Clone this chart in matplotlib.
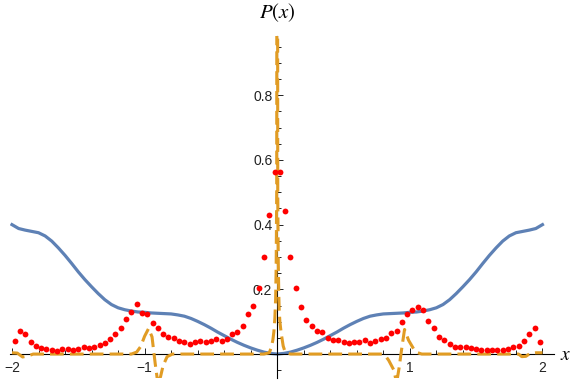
import numpy as np
import matplotlib.pyplot as plt
from matplotlib.ticker import FixedLocator

plt.rcParams['mathtext.fontset'] = 'stix'

# red points (histogram bin centres)
x_pts = np.round(np.arange(-1.98, 1.99, 0.04), 2)
y_pts = [0.040, 0.072, 0.061, 0.038, 0.026, 0.018, 0.015, 0.012, 0.008, 0.015,
         0.015, 0.011, 0.015, 0.021, 0.018, 0.023, 0.029, 0.035, 0.045, 0.062,
         0.081, 0.108, 0.130, 0.155, 0.126, 0.124, 0.097, 0.082, 0.061, 0.054,
         0.049, 0.040, 0.036, 0.030, 0.038, 0.040, 0.037, 0.040, 0.045, 0.041,
         0.046, 0.061, 0.069, 0.087, 0.124, 0.147, 0.205, 0.300, 0.429, 0.562,
         0.562, 0.442, 0.301, 0.205, 0.146, 0.106, 0.087, 0.072, 0.067, 0.050,
         0.042, 0.042, 0.037, 0.033, 0.036, 0.036, 0.042, 0.035, 0.040, 0.045,
         0.050, 0.066, 0.072, 0.099, 0.123, 0.136, 0.145, 0.136, 0.103, 0.079,
         0.054, 0.043, 0.030, 0.022, 0.023, 0.022, 0.018, 0.015, 0.012, 0.011,
         0.011, 0.011, 0.012, 0.015, 0.021, 0.026, 0.040, 0.061, 0.080, 0.037]

# blue curve (symmetric, values for |x| = 0, 0.05, ..., 2)
x_blue = np.round(np.arange(-2.0, 2.001, 0.05), 2)
y_blue_half = [0.000, 0.002, 0.006, 0.012, 0.019, 0.027, 0.036, 0.046, 0.057, 0.068,
               0.080, 0.091, 0.101, 0.110, 0.117, 0.121, 0.124, 0.125, 0.126, 0.127,
               0.129, 0.130, 0.133, 0.137, 0.143, 0.153, 0.168, 0.187, 0.208, 0.230,
               0.254, 0.280, 0.305, 0.328, 0.349, 0.365, 0.375, 0.379, 0.383, 0.388,
               0.400]
y_blue = y_blue_half[::-1] + y_blue_half[1:]

# orange dashed curve
x_orange = [-2.0, -1.96, -1.92, -1.88, -1.84, -1.10, -1.06, -1.03, -1.0, -0.97,
            -0.944, -0.92, -0.90, -0.88, -0.86, -0.83, -0.79, -0.10, -0.06, -0.045,
            -0.033, -0.025, -0.018, -0.012, -0.008, -0.004, 0.0,
            0.004, 0.008, 0.012, 0.015, 0.02, 0.03, 0.045, 0.06, 0.10,
            0.79, 0.82, 0.84, 0.88, 0.90, 0.92, 0.937, 0.96, 0.99, 1.03,
            1.06, 1.09, 1.82, 1.844, 1.875, 1.907, 1.95, 2.0]
y_orange = [0.004, 0.003, -0.009, -0.006, 0.0, 0.0, 0.006, 0.023, 0.055, 0.079,
            0.053, -0.03, -0.09, -0.07, -0.035, -0.008, 0.0, 0.0, 0.004, 0.02,
            0.043, 0.07, 0.11, 0.17, 0.27, 0.5, 3.0,
            0.5, 0.28, 0.18, 0.136, 0.10, 0.064, 0.025, 0.006, 0.0,
            0.0, -0.008, -0.019, -0.05, -0.09, -0.04, 0.012, 0.076, 0.043, 0.015,
            0.004, 0.0, 0.0, -0.008, -0.007, 0.002, 0.004, 0.004]

fig = plt.figure(figsize=(5.81, 3.80), dpi=100)
ax = fig.add_axes([10/581, 2/380, 544/581, 342/380])

ax.plot(x_blue, y_blue, color='#5E81B5', lw=2.3, zorder=2, solid_joinstyle='round')
ax.plot(x_orange, y_orange, color='#E19C24', lw=2.2, ls=(0, (4.5, 2.0)), zorder=3)
ax.plot(x_pts, y_pts, 'o', color='#FF0000', ms=4.2, mec='none', zorder=4)

ax.set_xlim(-2.015, 2.087)
ax.set_ylim(-0.074, 0.983)

for s in ['top', 'right']:
    ax.spines[s].set_visible(False)
ax.spines['left'].set_position(('data', 0))
ax.spines['bottom'].set_position(('data', 0))
ax.spines['left'].set_linewidth(0.8)
ax.spines['bottom'].set_linewidth(0.8)
ax.patch.set_visible(False)

ax.set_xticks([-2, -1, 1, 2])
ax.set_xticklabels(['\u22122', '\u22121', '1', '2'])
ax.xaxis.set_minor_locator(FixedLocator([-1.8, -1.6, -1.4, -1.2, -0.8, -0.6, -0.4, -0.2,
                                         0.2, 0.4, 0.6, 0.8, 1.2, 1.4, 1.6, 1.8]))
ax.set_yticks([0.2, 0.4, 0.6, 0.8])
ax.set_yticklabels(['0.2', '0.4', '0.6', '0.8'])
ax.yaxis.set_minor_locator(FixedLocator([-0.05, 0.05, 0.1, 0.15, 0.25, 0.3, 0.35, 0.45,
                                         0.5, 0.55, 0.65, 0.7, 0.75, 0.85, 0.9, 0.95]))

ax.tick_params(which='both', direction='in', width=0.7, colors='#222222',
               labelsize=10)
ax.tick_params(which='major', length=4.5)
ax.tick_params(which='minor', length=2.7)
ax.tick_params(axis='x', pad=5)
for lab in ax.get_xticklabels() + ax.get_yticklabels():
    lab.set_fontfamily('Liberation Sans')

ax.text(2.13, 0.0, '$x$', fontsize=14, ha='left', va='center')
ax.text(0.0, 1.055, '$P(x)$', fontsize=15, ha='center', va='center', clip_on=False)

fig.savefig('out.png', dpi=100)
